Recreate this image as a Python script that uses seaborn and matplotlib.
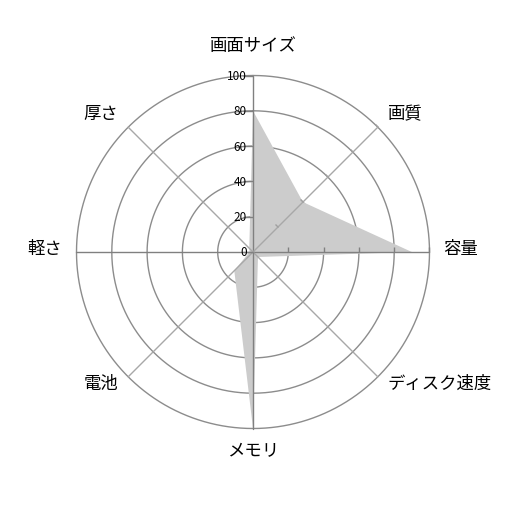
import numpy as np
import matplotlib
matplotlib.use('Agg')
import matplotlib.pyplot as plt
from matplotlib import transforms
from matplotlib.markers import MarkerStyle, TICKLEFT, TICKUP
import seaborn as sns

# data
categories = ['画面サイズ', '画質', '容量', 'ディスク速度', 'メモリ', '電池', '軽さ', '厚さ']
values = [80, 40, 90, 4, 100, 15, 2, 3]
ring_values = [20, 40, 60, 80, 100]
tick_values = [0, 20, 40, 60, 80, 100]
tick_labels = ['0', '20', '40', '60', '80', '100']

sns.set_theme(style='white')
plt.rcParams['font.family'] = ['Noto Sans CJK JP', 'DejaVu Sans']

fig = plt.figure(figsize=(5.06, 5.06), dpi=100)
R = 176.5  # outer ring radius in px
ax = fig.add_axes([(253 - R) / 506, (253 - R) / 506, 2 * R / 506, 2 * R / 506],
                  projection='polar')
ax.set_theta_zero_location('N')
ax.set_theta_direction(-1)
ax.set_ylim(0, 100)
ax.set_axis_off()

angles = np.linspace(0, 2 * np.pi, len(categories), endpoint=False)

# rings
theta_ring = np.linspace(0, 2 * np.pi, 721)
for r in ring_values:
    ax.plot(theta_ring, np.full_like(theta_ring, r), color='#8c8c8c', lw=1.0,
            zorder=1, clip_on=False)

# filled series
ax.fill(np.append(angles, angles[0]), values + [values[0]], color='#cccccc',
        lw=0, zorder=2)

# spokes
for i, a in enumerate(angles):
    col = '#808080' if i % 2 == 0 else '#a8a8a8'
    ax.plot([a, a], [0, 100], color=col, lw=1.0, zorder=3, clip_on=False)

# tick marks on a few axes
ax.plot([0] * len(tick_values), tick_values, ls='none', marker=TICKLEFT, ms=7,
        mec='#808080', mew=1.0, zorder=3, clip_on=False)
ax.plot([np.pi / 2] * len(ring_values), ring_values, ls='none', marker=TICKUP,
        ms=3.5, mec='#808080', mew=1.0, zorder=3, clip_on=False)
diag_tick = MarkerStyle(TICKLEFT, transform=transforms.Affine2D().rotate_deg(-45))
ax.plot([np.pi / 4] * len(ring_values), ring_values, ls='none', marker=diag_tick,
        ms=3.5, mec='#a0a0a0', mew=1.0, zorder=3, clip_on=False)

# radial labels
lab_tr = transforms.offset_copy(ax.transData, fig=fig, x=-6, y=0, units='dots')
for v, s in zip(tick_values, tick_labels):
    ax.text(0, v, s, ha='right', va='center', fontsize=8.5, color='black',
            transform=lab_tr, zorder=4)

# category labels
side_tr = transforms.offset_copy(ax.transData, fig=fig, x=0, y=4, units='dots')
for a, name in zip(angles, categories):
    s, c = np.sin(a), np.cos(a)
    ha = 'left' if s > 0.1 else ('right' if s < -0.1 else 'center')
    tr = ax.transData
    if c > 0.9:
        va, r = 'bottom', 112
    elif c < -0.9:
        va, r = 'top', 107
    else:
        va, r, tr = 'center', 108, side_tr
    ax.text(a, r, name, ha=ha, va=va, fontsize=12.5, color='black', transform=tr)

fig.savefig('out.png', dpi=100)
